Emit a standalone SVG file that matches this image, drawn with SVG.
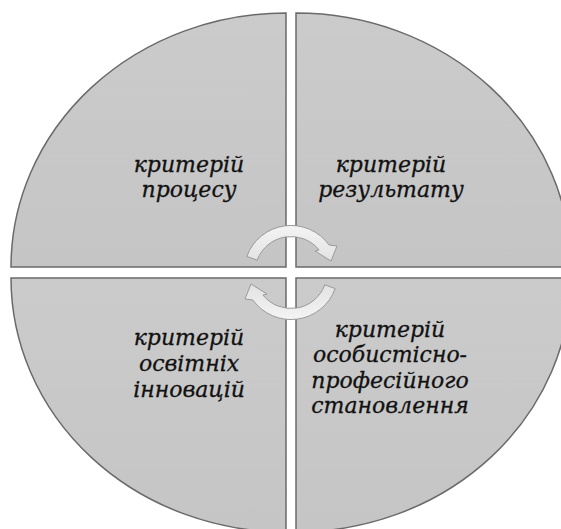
<svg xmlns="http://www.w3.org/2000/svg" xmlns:xlink="http://www.w3.org/1999/xlink" width="561" height="529" viewBox="0 0 561 529">
  <style>
    .q { fill: url(#qg); stroke: #6a6a6a; stroke-width: 1.5; }
    .t { font-family: "DejaVu Serif", "Liberation Serif", serif; font-style: italic; font-size: 22px; fill: #111; stroke: #111; stroke-width: 0.3; text-anchor: middle; }
    .arr { fill: url(#ag); stroke: #9a9a9a; stroke-width: 1; }
  </style>
  <defs>
    <linearGradient id="qg" x1="0" y1="0" x2="0" y2="1">
      <stop offset="0" stop-color="#cbcbcb"/>
      <stop offset="1" stop-color="#c5c5c5"/>
    </linearGradient>
    <linearGradient id="ag" x1="0" y1="0" x2="0" y2="1">
      <stop offset="0" stop-color="#f4f4f4"/>
      <stop offset="1" stop-color="#e2e2e2"/>
    </linearGradient>
    <path id="cyc" d="M246.8 256.4 A47 47 0 0 1 329.1 245 L337 246 L331 261 L315 251 L319.1 250 A36 36 0 0 0 257.2 260.2 Z"/>
  </defs>
  <rect width="561" height="529" fill="#ffffff"/>
  <g id="node-process">
    <path class="q" d="M286 267 L11 267 A275 254 0 0 1 286 13 Z"/>
    <text class="t" x="189" y="172">критерій</text>
    <text class="t" x="189" y="197">процесу</text>
  </g>
  <g id="node-result">
    <path class="q" d="M296 267 L296 13 A275 254 0 0 1 571 267 Z"/>
    <text class="t" x="391" y="172">критерій</text>
    <text class="t" x="391" y="197">результату</text>
  </g>
  <g id="node-personal">
    <path class="q" d="M296 278 L571 278 A275 254 0 0 1 296 532 Z"/>
    <text class="t" x="390" y="337">критерій</text>
    <text class="t" x="390" y="362">особистісно-</text>
    <text class="t" x="390" y="388">професійного</text>
    <text class="t" x="390" y="413">становлення</text>
  </g>
  <g id="node-innovation">
    <path class="q" d="M286 278 L286 532 A275 254 0 0 1 11 278 Z"/>
    <text class="t" x="189" y="345">критерій</text>
    <text class="t" x="189" y="371">освітніх</text>
    <text class="t" x="189" y="397">інновацій</text>
  </g>
  <g id="connectors">
    <use xlink:href="#cyc" class="arr"/>
    <use xlink:href="#cyc" class="arr" transform="rotate(180 291 272.5)"/>
  </g>
</svg>
